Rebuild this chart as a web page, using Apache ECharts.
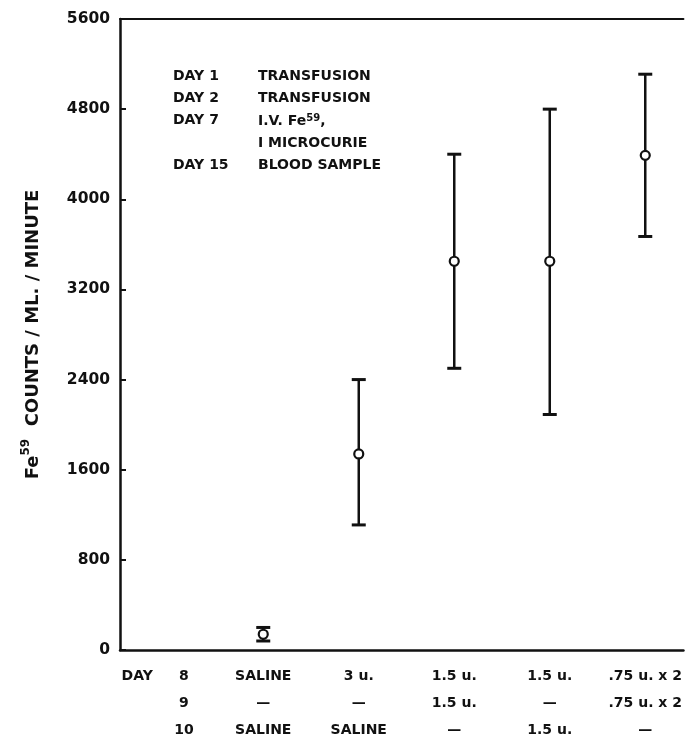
<!DOCTYPE html>
<html>
<head>
<meta charset="utf-8">
<script src="https://cdn.jsdelivr.net/npm/echarts@6/dist/echarts.min.js"></script>
<style>
  html, body { margin: 0; padding: 0; background: #fff; }
  #chart { width: 685px; height: 744px; }
</style>
</head>
<body>
<div id="chart"></div>
<script>
// Treatment groups (position along the x axis)
const groupPos = [1, 2, 3, 4, 5];
// Injections given on days 8, 9 and 10 for each group
const day8 = ['SALINE', '3 u.', '1.5 u.', '1.5 u.', '.75 u. x 2'];
const day9 = ['—', '—', '1.5 u.', '—', '.75 u. x 2'];
const day10 = ['SALINE', 'SALINE', '—', '1.5 u.', '—'];
// Fe59 counts / ml / minute: mean and range
const meanCounts = [140, 1740, 3450, 3450, 4390];
const lowCounts = [80, 1110, 2500, 2090, 3670];
const highCounts = [200, 2400, 4400, 4800, 5110];
// Y axis ticks
const yMin = 0, yMax = 5600, yStep = 800;
// Schedule printed in the plot area
const scheduleDays = ['DAY 1', 'DAY 2', 'DAY 7', '', 'DAY 15'];
const scheduleEvents = ['TRANSFUSION', 'TRANSFUSION', 'I.V. Fe{sup|59},', 'I MICROCURIE', 'BLOOD SAMPLE'];
// Left-hand column of the day table under the axis
const dayHeadPos = -0.32, dayNumPos = 0.17;
const dayNumbers = ['8', '9', '10'];

const FONT = 'DejaVu Sans';
const INK = '#111';

const labelValues = [dayHeadPos, dayNumPos].concat(groupPos);
function xLabel(v) {
  if (Math.abs(v - dayHeadPos) < 1e-6) return 'DAY\n\n';
  if (Math.abs(v - dayNumPos) < 1e-6) return dayNumbers.join('\n');
  const i = groupPos.findIndex(p => Math.abs(p - v) < 1e-6);
  if (i < 0) return '';
  return day8[i] + '\n' + day9[i] + '\n' + day10[i];
}

const chart = echarts.init(document.getElementById('chart'), null, { renderer: 'canvas' });

const errData = groupPos.map((x, i) => [x, lowCounts[i], highCounts[i]]);
const meanData = groupPos.map((x, i) => [x, meanCounts[i]]);

const graphics = [];
scheduleDays.forEach((d, i) => {
  const y = 78 + i * 22.3;
  if (d) graphics.push({
    type: 'text', left: 173, top: y - 9,
    style: { text: d, font: 'bold 14px "' + FONT + '"', fill: INK }
  });
  graphics.push({
    type: 'text', left: 258, top: y - 9,
    style: {
      text: scheduleEvents[i], font: 'bold 14px "' + FONT + '"', fill: INK,
      rich: { sup: { fontSize: 10, fontWeight: 'bold', fontFamily: FONT, verticalAlign: 'top', padding: [0, 0, 6, 0] } }
    }
  });
});

chart.setOption({
  animation: false,
  backgroundColor: '#fff',
  grid: { left: 120, right: 0, top: 19, bottom: 93, containLabel: false },
  xAxis: [{
    type: 'value', min: -0.5, max: 5.4,
    axisLine: { show: true, onZero: false, lineStyle: { color: INK, width: 2.5 } },
    axisTick: { show: false },
    splitLine: { show: false },
    axisLabel: {
      customValues: labelValues,
      formatter: xLabel,
      color: INK, fontFamily: FONT, fontWeight: 'bold', fontSize: 14,
      lineHeight: 27, margin: 13, verticalAlign: 'top'
    }
  }, {
    type: 'value', min: -0.5, max: 5.4, position: 'top',
    axisLine: { show: true, onZero: false, lineStyle: { color: INK, width: 2 } },
    axisTick: { show: false }, axisLabel: { show: false }, splitLine: { show: false }
  }],
  yAxis: {
    type: 'value', min: yMin, max: yMax, interval: yStep,
    name: '{fe|Fe}{sup|59}{fe|  COUNTS / ML. / MINUTE}',
    nameLocation: 'middle', nameRotate: 90, nameGap: 78,
    nameTextStyle: {
      rich: {
        fe: { fontFamily: FONT, fontWeight: 'bold', fontSize: 18, color: INK, lineHeight: 22, verticalAlign: 'bottom' },
        sup: { fontFamily: FONT, fontWeight: 'bold', fontSize: 12, color: INK, lineHeight: 22, verticalAlign: 'top' }
      }
    },
    axisLine: { show: true, onZero: false, lineStyle: { color: INK, width: 2.5 } },
    axisTick: { show: true, inside: true, length: 6, lineStyle: { color: INK, width: 2 } },
    splitLine: { show: false },
    axisLabel: {
      color: INK, fontFamily: FONT, fontWeight: 'bold', fontSize: 15.5, margin: 10,
      formatter: v => String(v)
    }
  },
  graphic: graphics,
  series: [{
    type: 'custom',
    data: errData,
    encode: { x: 0, y: [1, 2] },
    renderItem: function (params, api) {
      const x = api.value(0);
      const lo = api.coord([x, api.value(1)]);
      const hi = api.coord([x, api.value(2)]);
      const cap = 7;
      const st = { stroke: INK, lineWidth: 2.5 };
      return {
        type: 'group',
        children: [
          { type: 'line', shape: { x1: lo[0], y1: lo[1], x2: hi[0], y2: hi[1] }, style: st },
          { type: 'line', shape: { x1: hi[0] - cap, y1: hi[1], x2: hi[0] + cap, y2: hi[1] }, style: { stroke: INK, lineWidth: 3 } },
          { type: 'line', shape: { x1: lo[0] - cap, y1: lo[1], x2: lo[0] + cap, y2: lo[1] }, style: { stroke: INK, lineWidth: 3 } }
        ]
      };
    },
    z: 2
  }, {
    type: 'scatter',
    data: meanData,
    symbol: 'circle',
    symbolSize: 9,
    itemStyle: { color: '#fff', borderColor: INK, borderWidth: 2.2, opacity: 1 },
    z: 3
  }]
});
</script>
</body>
</html>
